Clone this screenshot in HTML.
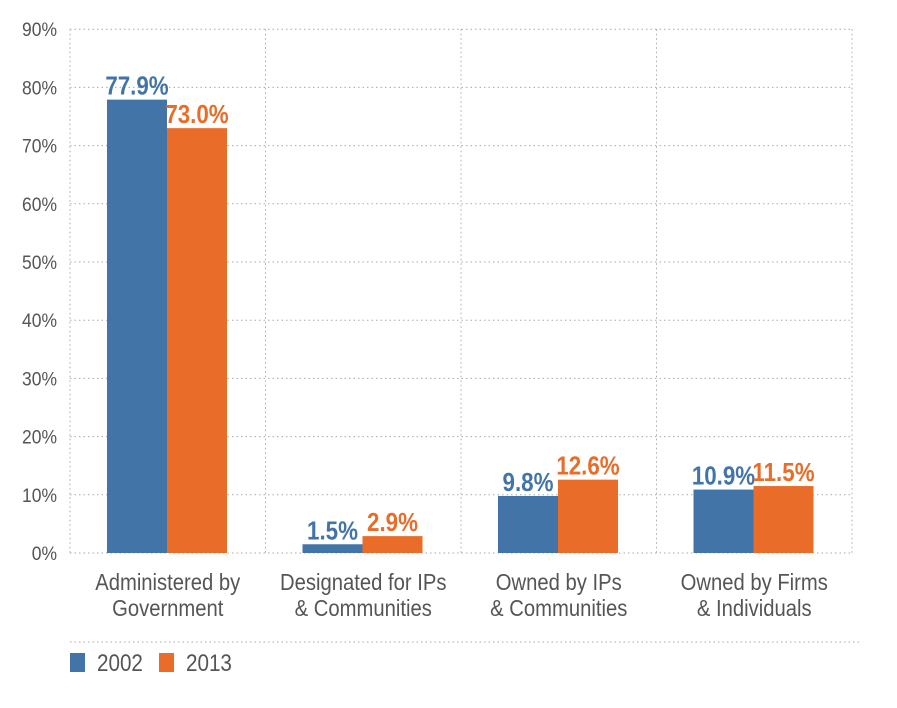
<!DOCTYPE html>
<html><head><meta charset="utf-8"><style>
body{margin:0;background:#fff;width:897px;height:703px;overflow:hidden}
svg text{font-family:"Liberation Sans",sans-serif}
</style></head><body>
<svg id="c" width="897" height="703"></svg>
<script>
const categories=[["Administered by","Government"],["Designated for IPs","& Communities"],["Owned by IPs","& Communities"],["Owned by Firms","& Individuals"]];
const s2002=[77.9,1.5,9.8,10.9];
const s2013=[73.0,2.9,12.6,11.5];
const yTicks=[0,10,20,30,40,50,60,70,80,90];
const seriesNames=["2002","2013"];
const colors=["#4374a8","#e96c28"];
const svg=document.getElementById('c');const NS="http://www.w3.org/2000/svg";
const x0=70,x1=852,y0=553,pxPer=5.82,cw=(x1-x0)/4,bw=60;
const y=v=>y0-v*pxPer;
function el(t,a,p){const e=document.createElementNS(NS,t);for(const k in a)e.setAttribute(k,a[k]);(p||svg).appendChild(e);return e;}
function txt(x,yy,s,sc,attrs){const e=el('text',Object.assign({x:0,y:0,transform:`translate(${x},${yy}) scale(${sc},1)`},attrs));e.textContent=s;return e;}
yTicks.forEach(t=>{
 const g=el('line',{x1:x0,x2:x1,y1:y(t),y2:y(t),stroke:"#aaa","stroke-dasharray":"1.5,3"});
 
 
 const l=txt(57,y(t)+7,t+"%",0.92,{"text-anchor":"end","font-size":19,fill:"#555"});
 
 
});
for(let i=0;i<=4;i++){const v=el('line',{x1:x0+i*cw,x2:x0+i*cw,y1:y(90),y2:y0,stroke:"#aaa","stroke-dasharray":"1.5,3"});
 
 }
[s2002,s2013].forEach((s,si)=>{s.forEach((v,i)=>{
 const bx=x0+i*cw+37+si*bw;
 const r=el('rect',{x:bx,y:y(v),width:bw,height:y0-y(v),fill:colors[si]});
 
 
 const t=txt(bx+bw/2,y(v)-5,v.toFixed(1)+"%",0.86,{"text-anchor":"middle","font-size":26,"font-weight":"bold",fill:colors[si]});
 
 
});});
categories.forEach((c,i)=>{c.forEach((ln,j)=>{
 const t=txt(x0+i*cw+cw/2,590+j*26,ln,0.88,{"text-anchor":"middle","font-size":23,fill:"#555"});
 
 
});});
const sep=el('line',{x1:x0,x2:860,y1:642,y2:642,stroke:"#aaa","stroke-dasharray":"1.5,3"});


seriesNames.forEach((n,i)=>{
 const lx=70+i*89;
 const r=el('rect',{x:lx,y:653,width:15,height:19,fill:colors[i]});
 
 
 const t=txt(lx+27,671,n,0.86,{"font-size":24,fill:"#555"});
 
 
});
</script></body></html>
